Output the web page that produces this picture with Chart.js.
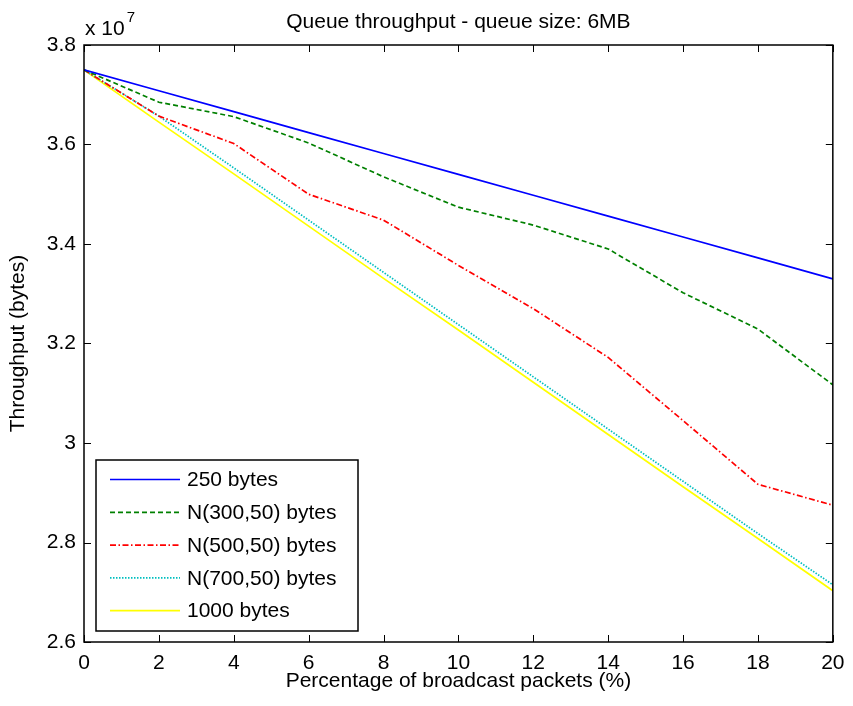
<!DOCTYPE html>
<html><head><meta charset="utf-8">
<script src="https://cdn.jsdelivr.net/npm/chart.js@4"></script>
<style>html,body{margin:0;padding:0;background:#fff}#wrap{width:853px;height:706px;position:relative}</style>
</head><body><div id="wrap"><canvas id="c"></canvas></div>
<script>
// Data (throughput in units of 10^7 bytes)
const percent = [0, 2, 4, 6, 8, 10, 12, 14, 16, 18, 20];
const tp250  = [3.750, 3.708, 3.666, 3.624, 3.582, 3.540, 3.498, 3.456, 3.414, 3.372, 3.330];
const tpN300 = [3.750, 3.685, 3.656, 3.603, 3.535, 3.474, 3.438, 3.390, 3.302, 3.229, 3.117];
const tpN500 = [3.750, 3.657, 3.602, 3.500, 3.448, 3.357, 3.270, 3.172, 3.045, 2.917, 2.875];
const tpN700 = [3.750, 3.657, 3.553, 3.448, 3.343, 3.238, 3.133, 3.028, 2.923, 2.818, 2.715];
const tp1000 = [3.750, 3.645, 3.541, 3.436, 3.331, 3.227, 3.122, 3.017, 2.912, 2.808, 2.703];
const seriesNames = ['250 bytes', 'N(300,50) bytes', 'N(500,50) bytes', 'N(700,50) bytes', '1000 bytes'];
const xTicks = [0, 2, 4, 6, 8, 10, 12, 14, 16, 18, 20];
const yTicks = [2.6, 2.8, 3.0, 3.2, 3.4, 3.6, 3.8];
const yExponent = '7';
const titleText = 'Queue throughput - queue size: 6MB';
const xTitle = 'Percentage of broadcast packets (%)';
const yTitle = 'Throughput (bytes)';

const FONT = "'Liberation Sans', Arial, Helvetica, sans-serif";
const FS = 21;

function pts(arr) { return percent.map((x, i) => ({x: x, y: arr[i]})); }

const styles = [
  {color: '#0000ff', dash: []},
  {color: '#008000', dash: [5, 3]},
  {color: '#ff0000', dash: [6, 2.5, 1.5, 2.5]},
  {color: '#00bfbf', dash: [1.5, 1.5]},
  {color: '#ffff00', dash: []}
];
const allSeries = [tp250, tpN300, tpN500, tpN700, tp1000];

const datasets = allSeries.map((s, i) => ({
  label: seriesNames[i],
  data: pts(s),
  borderColor: styles[i].color,
  backgroundColor: styles[i].color,
  borderDash: styles[i].dash,
  borderWidth: 1.7,
  pointRadius: 0,
  tension: 0,
  fill: false
}));

const matlabAxes = {
  id: 'matlabAxes',
  afterDatasetsDraw(chart) {
    const {ctx, chartArea: a, scales} = chart;
    ctx.save();
    ctx.strokeStyle = '#000';
    ctx.lineWidth = 1.5;
    ctx.strokeRect(a.left, a.top, a.right - a.left, a.bottom - a.top);
    const L = 7;
    ctx.beginPath();
    xTicks.forEach(v => {
      const px = Math.round(scales.x.getPixelForValue(v)) + 0.5;
      ctx.moveTo(px, a.bottom); ctx.lineTo(px, a.bottom - L);
      ctx.moveTo(px, a.top); ctx.lineTo(px, a.top + L);
    });
    yTicks.forEach(v => {
      const py = Math.round(scales.y.getPixelForValue(v)) + 0.5;
      ctx.moveTo(a.left, py); ctx.lineTo(a.left + L, py);
      ctx.moveTo(a.right, py); ctx.lineTo(a.right - L, py);
    });
    ctx.lineWidth = 1;
    ctx.stroke();
    // title, centred over the axes
    ctx.fillStyle = '#000';
    ctx.font = FS + 'px ' + FONT;
    ctx.textAlign = 'center';
    ctx.textBaseline = 'middle';
    ctx.fillText(titleText, (a.left + a.right) / 2, 22);
    // exponent label
    ctx.textBaseline = 'alphabetic';
    ctx.textAlign = 'left';
    ctx.fillText('x 10', a.left + 1, a.top - 10);
    const w = ctx.measureText('x 10').width;
    ctx.font = '15px ' + FONT;
    ctx.fillText(yExponent, a.left + 3 + w, a.top - 23);
    // legend
    const bx = 96, by = 460, bw = 262, bh = 171;
    ctx.fillStyle = '#fff';
    ctx.fillRect(bx, by, bw, bh);
    ctx.strokeStyle = '#000';
    ctx.lineWidth = 1.5;
    ctx.strokeRect(bx, by, bw, bh);
    ctx.font = FS + 'px ' + FONT;
    ctx.textBaseline = 'middle';
    chart.data.datasets.forEach((ds, i) => {
      const y = 479.5 + i * 32.8;
      ctx.save();
      ctx.strokeStyle = ds.borderColor;
      ctx.lineWidth = ds.borderWidth;
      ctx.setLineDash(ds.borderDash);
      ctx.beginPath();
      ctx.moveTo(110, y); ctx.lineTo(180, y);
      ctx.stroke();
      ctx.restore();
      ctx.fillStyle = '#000';
      ctx.fillText(ds.label, 187, y + 1);
    });
    ctx.restore();
  }
};

new Chart(document.getElementById('c'), {
  type: 'line',
  data: {datasets: datasets},
  plugins: [matlabAxes],
  options: {
    responsive: true,
    maintainAspectRatio: false,
    animation: false,
    layout: {padding: {left: 0, right: 14, top: 45, bottom: 0}},
    plugins: {
      legend: {display: false},
      tooltip: {enabled: false},
      title: {display: false}
    },
    scales: {
      x: {
        type: 'linear',
        min: 0, max: 20,
        afterBuildTicks: s => { s.ticks = xTicks.map(v => ({value: v})); },
        afterFit: s => { s.height = 64; },
        grid: {display: false, drawTicks: false},
        border: {display: false},
        ticks: {color: '#000', font: {family: FONT, size: FS}, padding: 8.5, maxRotation: 0,
                callback: v => String(v)},
        title: {display: true, text: xTitle, color: '#000',
                font: {family: FONT, size: FS, lineHeight: 1.2}, padding: {top: 0, bottom: 12}}
      },
      y: {
        type: 'linear',
        min: 2.6, max: 3.8,
        afterBuildTicks: s => { s.ticks = yTicks.map(v => ({value: v})); },
        afterFit: s => { s.width = 84; },
        grid: {display: false, drawTicks: false},
        border: {display: false},
        ticks: {color: '#000', font: {family: FONT, size: FS}, padding: 8,
                callback: v => String(parseFloat(Number(v).toFixed(1)))},
        title: {display: true, text: yTitle, color: '#000',
                font: {family: FONT, size: FS, lineHeight: 1.2}, padding: {top: 6, bottom: 0}}
      }
    }
  }
});
</script></body></html>
